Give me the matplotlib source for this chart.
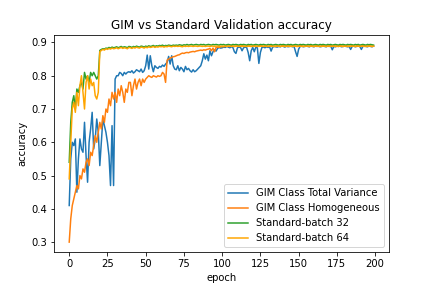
import matplotlib
matplotlib.use("Agg")
import matplotlib.pyplot as plt

# validation accuracy per epoch
total_variance = [
    0.41, 0.55, 0.60, 0.59, 0.61, 0.45, 0.55, 0.61, 0.58, 0.57,
    0.66, 0.56, 0.48, 0.60, 0.64, 0.69, 0.58, 0.61, 0.67, 0.63,
    0.53, 0.60, 0.67, 0.65, 0.63, 0.60, 0.56, 0.47, 0.65, 0.47,
    0.79, 0.80, 0.80, 0.81, 0.807, 0.80, 0.81, 0.805, 0.81, 0.812,
    0.81, 0.815, 0.808, 0.812, 0.818, 0.815, 0.812, 0.82, 0.81, 0.815,
    0.83, 0.862, 0.82, 0.86, 0.83, 0.812, 0.83, 0.825, 0.822, 0.828,
    0.826, 0.832, 0.828, 0.835, 0.84, 0.858, 0.835, 0.86, 0.83, 0.82,
    0.818, 0.83, 0.815, 0.825, 0.82, 0.812, 0.828, 0.818, 0.822, 0.815,
    0.811, 0.818, 0.812, 0.815, 0.82, 0.825, 0.83, 0.845, 0.866, 0.85,
    0.862, 0.845, 0.875, 0.86, 0.872, 0.878, 0.874, 0.882, 0.885, 0.883,
    0.884, 0.886, 0.885, 0.888, 0.886, 0.884, 0.887, 0.885, 0.872, 0.867,
    0.884, 0.886, 0.885, 0.875, 0.884, 0.886, 0.885, 0.87, 0.845, 0.875,
    0.885, 0.872, 0.886, 0.884, 0.837, 0.87, 0.885, 0.886, 0.884, 0.887,
    0.885, 0.887, 0.874, 0.886, 0.888, 0.887, 0.886, 0.888, 0.887, 0.889,
    0.888, 0.886, 0.889, 0.887, 0.888, 0.889, 0.887, 0.888, 0.872, 0.858,
    0.88, 0.888, 0.889, 0.887, 0.888, 0.889, 0.888, 0.887, 0.889, 0.888,
    0.887, 0.889, 0.888, 0.889, 0.887, 0.888, 0.889, 0.888, 0.887, 0.889,
    0.888, 0.889, 0.878, 0.888, 0.887, 0.889, 0.888, 0.889, 0.887, 0.888,
    0.889, 0.888, 0.887, 0.888, 0.879, 0.888, 0.889, 0.887, 0.888, 0.889,
    0.888, 0.879, 0.888, 0.889, 0.888, 0.887, 0.889, 0.888, 0.887, 0.889,
]

homogeneous = [
    0.30, 0.37, 0.41, 0.43, 0.45, 0.47, 0.46, 0.50, 0.49, 0.52,
    0.51, 0.54, 0.55, 0.53, 0.57, 0.56, 0.59, 0.62, 0.60, 0.63,
    0.66, 0.64, 0.68, 0.66, 0.70, 0.69, 0.73, 0.71, 0.75, 0.73,
    0.75, 0.72, 0.76, 0.74, 0.77, 0.75, 0.72, 0.76, 0.75, 0.78,
    0.78, 0.74, 0.77, 0.79, 0.76, 0.78, 0.79, 0.77, 0.79, 0.78,
    0.79, 0.795, 0.80, 0.797, 0.795, 0.80, 0.798, 0.796, 0.80, 0.798,
    0.80, 0.81, 0.805, 0.78, 0.847, 0.85, 0.853, 0.855, 0.857, 0.858,
    0.86, 0.862, 0.863, 0.866, 0.868, 0.867, 0.869, 0.87, 0.869, 0.871,
    0.872, 0.873, 0.872, 0.874, 0.875, 0.876, 0.877, 0.876, 0.878, 0.877,
    0.879, 0.88, 0.882, 0.875, 0.883, 0.872, 0.885, 0.886, 0.885, 0.887,
    0.888, 0.887, 0.889, 0.888, 0.889, 0.888, 0.890, 0.889, 0.888, 0.889,
    0.890, 0.889, 0.888, 0.890, 0.889, 0.888, 0.889, 0.890, 0.889, 0.888,
    0.889, 0.890, 0.889, 0.888, 0.889, 0.890, 0.889, 0.888, 0.890, 0.889,
    0.888, 0.889, 0.890, 0.889, 0.888, 0.889, 0.890, 0.889, 0.888, 0.889,
    0.890, 0.889, 0.888, 0.890, 0.889, 0.888, 0.889, 0.890, 0.889, 0.888,
    0.889, 0.890, 0.889, 0.888, 0.889, 0.890, 0.889, 0.888, 0.890, 0.889,
    0.888, 0.889, 0.890, 0.889, 0.888, 0.889, 0.890, 0.889, 0.888, 0.889,
    0.890, 0.889, 0.888, 0.890, 0.889, 0.888, 0.889, 0.890, 0.889, 0.888,
    0.889, 0.890, 0.889, 0.888, 0.889, 0.890, 0.889, 0.888, 0.890, 0.889,
    0.888, 0.889, 0.890, 0.889, 0.888, 0.889, 0.890, 0.889, 0.888, 0.889,
]

batch32 = [
    0.54, 0.66, 0.72, 0.74, 0.70, 0.76, 0.75, 0.77, 0.78, 0.76,
    0.81, 0.79, 0.80, 0.78, 0.81, 0.80, 0.81, 0.80, 0.79, 0.80,
    0.876, 0.879, 0.881, 0.880, 0.883, 0.882, 0.885, 0.883, 0.886, 0.884,
    0.885, 0.887, 0.884, 0.886, 0.888, 0.885, 0.887, 0.886, 0.884, 0.888,
    0.887, 0.885, 0.888, 0.886, 0.889, 0.887, 0.886, 0.889, 0.888, 0.886,
    0.889, 0.887, 0.890, 0.888, 0.889, 0.891, 0.888, 0.890, 0.889, 0.891,
    0.890, 0.892, 0.889, 0.891, 0.890, 0.892, 0.891, 0.890, 0.892, 0.891,
    0.892, 0.891, 0.893, 0.892, 0.891, 0.893, 0.892, 0.894, 0.892, 0.893,
    0.894, 0.892, 0.893, 0.894, 0.893, 0.892, 0.894, 0.893, 0.894, 0.892,
    0.893, 0.894, 0.893, 0.892, 0.894, 0.893, 0.894, 0.893, 0.892, 0.894,
    0.893, 0.894, 0.892, 0.893, 0.894, 0.893, 0.892, 0.894, 0.893, 0.894,
    0.893, 0.892, 0.894, 0.893, 0.894, 0.893, 0.892, 0.894, 0.893, 0.894,
    0.892, 0.893, 0.894, 0.893, 0.892, 0.894, 0.893, 0.894, 0.893, 0.892,
    0.894, 0.893, 0.894, 0.892, 0.893, 0.894, 0.893, 0.892, 0.894, 0.893,
    0.894, 0.893, 0.892, 0.894, 0.893, 0.894, 0.892, 0.893, 0.894, 0.893,
    0.892, 0.894, 0.893, 0.894, 0.893, 0.892, 0.894, 0.893, 0.894, 0.892,
    0.893, 0.894, 0.893, 0.892, 0.894, 0.893, 0.894, 0.893, 0.892, 0.894,
    0.893, 0.894, 0.892, 0.893, 0.894, 0.893, 0.892, 0.894, 0.893, 0.894,
    0.893, 0.892, 0.894, 0.893, 0.894, 0.893, 0.892, 0.894, 0.893, 0.894,
    0.892, 0.893, 0.894, 0.893, 0.892, 0.894, 0.893, 0.894, 0.893, 0.892,
]

batch64 = [
    0.49, 0.60, 0.70, 0.72, 0.69, 0.75, 0.71, 0.77, 0.80, 0.75,
    0.70, 0.78, 0.80, 0.76, 0.79, 0.77, 0.78, 0.74, 0.73, 0.75,
    0.872, 0.876, 0.879, 0.877, 0.881, 0.879, 0.882, 0.880, 0.883, 0.881,
    0.882, 0.884, 0.881, 0.883, 0.885, 0.882, 0.884, 0.883, 0.881, 0.885,
    0.884, 0.882, 0.885, 0.883, 0.886, 0.884, 0.883, 0.886, 0.885, 0.883,
    0.886, 0.884, 0.887, 0.885, 0.886, 0.888, 0.885, 0.887, 0.886, 0.888,
    0.887, 0.888, 0.886, 0.888, 0.887, 0.889, 0.888, 0.887, 0.889, 0.888,
    0.889, 0.888, 0.889, 0.888, 0.887, 0.889, 0.888, 0.889, 0.888, 0.889,
    0.889, 0.888, 0.889, 0.889, 0.888, 0.889, 0.889, 0.888, 0.889, 0.888,
    0.889, 0.889, 0.888, 0.889, 0.889, 0.888, 0.889, 0.889, 0.888, 0.889,
    0.888, 0.889, 0.889, 0.888, 0.889, 0.889, 0.888, 0.889, 0.888, 0.889,
    0.889, 0.888, 0.889, 0.889, 0.888, 0.889, 0.888, 0.889, 0.889, 0.888,
    0.889, 0.889, 0.888, 0.889, 0.888, 0.889, 0.889, 0.888, 0.889, 0.889,
    0.888, 0.889, 0.889, 0.888, 0.889, 0.888, 0.889, 0.889, 0.888, 0.889,
    0.889, 0.888, 0.889, 0.889, 0.888, 0.889, 0.888, 0.889, 0.889, 0.888,
    0.889, 0.889, 0.888, 0.889, 0.888, 0.889, 0.889, 0.888, 0.889, 0.889,
    0.888, 0.889, 0.889, 0.888, 0.889, 0.888, 0.889, 0.889, 0.888, 0.889,
    0.889, 0.888, 0.889, 0.889, 0.888, 0.889, 0.888, 0.889, 0.889, 0.888,
    0.889, 0.889, 0.888, 0.889, 0.888, 0.889, 0.889, 0.888, 0.889, 0.889,
    0.888, 0.889, 0.889, 0.888, 0.889, 0.888, 0.889, 0.889, 0.888, 0.889,
]

epochs = list(range(len(total_variance)))

plt.figure(figsize=(6, 4), dpi=72)
plt.plot(epochs, total_variance, label="GIM Class Total Variance")
plt.plot(epochs, homogeneous, label="GIM Class Homogeneous")
plt.plot(epochs, batch32, label="Standard-batch 32")
plt.plot(epochs, batch64, color="orange", label="Standard-batch 64")
plt.legend(loc="lower right")
plt.title("GIM vs Standard Validation accuracy")
plt.xlabel("epoch")
plt.ylabel("accuracy")
plt.subplots_adjust(left=0.125, right=0.9, bottom=0.125, top=0.88)
plt.savefig("out.png", dpi=72)
